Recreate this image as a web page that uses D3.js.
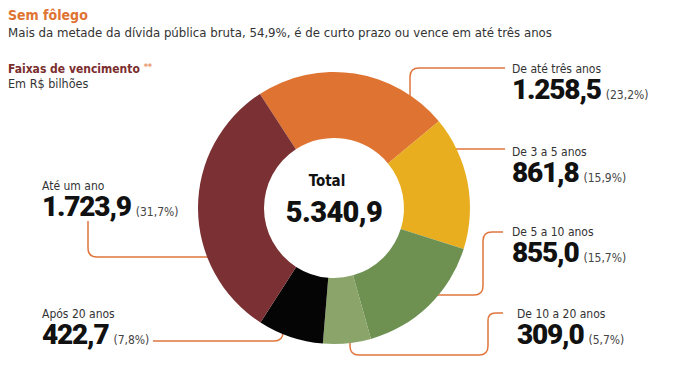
<!DOCTYPE html>
<html>
<head>
<meta charset="utf-8">
<script src="https://cdn.jsdelivr.net/npm/d3@7"></script>
<style>
  body { margin: 0; background: #fff; }
  text { font-family: "Liberation Sans Narrow", "DejaVu Sans Condensed", "Roboto", sans-serif; }
  .big { font-family: "Roboto", "DejaVu Sans", sans-serif; font-weight: 900; }
</style>
</head>
<body>
<script>
// data
var categories = ["De até três anos", "De 3 a 5 anos", "De 5 a 10 anos", "De 10 a 20 anos", "Após 20 anos", "Até um ano"];
var values = [1258.5, 861.8, 855.0, 309.0, 422.7, 1723.9];
var shares = [23.2, 15.9, 15.7, 5.7, 7.8, 31.7];
var total = 5340.9; // as printed in the centre
var colors = ["#df7332", "#e8ae1f", "#6e9152", "#8aa46a", "#050505", "#7b3133"];

var svgWidth = 675;
var svgHeight = 373;

var cx = 334, cy = 208;
var outerR = 136, innerR = 70;

// label placement + leader lines (layout only)
var labelLayout = [
    {x: 512, y: 73, line: [[410, 110], [410, 68], [505, 68]]},
    {x: 512, y: 156, line: [[440, 149], [505, 149]]},
    {x: 512, y: 236, line: [[420, 295], [483, 295], [483, 232], [503, 232]]},
    {x: 517, y: 318, line: [[350, 330], [350, 355], [488, 355], [488, 313], [503, 313]]},
    {x: 42, y: 318, line: [[153, 341], [283, 341], [283, 320]]},
    {x: 42, y: 190, line: [[88, 221], [88, 257], [215, 257]]}
];

var br = d3.formatLocale({decimal: ",", thousands: ".", grouping: [3], currency: ["R$", ""]});
var fmtVal = br.format(",.1f");
var fmtPct = br.format(".1f");

var svg = d3.select("body")
    .append("svg")
    .attr("width", svgWidth)
    .attr("height", svgHeight);

// header
svg.append("text")
    .attr("x", 8).attr("y", 20)
    .attr("fill", "#df7332")
    .attr("font-size", 14).attr("font-weight", "bold")
    .text("Sem fôlego");

svg.append("text")
    .attr("x", 8).attr("y", 37)
    .attr("fill", "#333")
    .attr("font-size", 13.1)
    .text("Mais da metade da dívida pública bruta, 54,9%, é de curto prazo ou vence em até três anos");

var faixas = svg.append("text")
    .attr("x", 8).attr("y", 73)
    .attr("fill", "#7b2e2e")
    .attr("font-size", 12).attr("font-weight", "bold");
faixas.append("tspan").text("Faixas de vencimento ");
faixas.append("tspan").attr("fill", "#e8946a").attr("font-size", 9).attr("dy", -3).text("**");

svg.append("text")
    .attr("x", 8).attr("y", 88)
    .attr("fill", "#333")
    .attr("font-size", 12.5)
    .text("Em R$ bilhões");

// rounded-corner polyline
function roundPath(pts, r) {
    var d = "M" + pts[0][0] + "," + pts[0][1];
    for (var i = 1; i < pts.length - 1; i++) {
        var p0 = pts[i - 1], p1 = pts[i], p2 = pts[i + 1];
        var l1 = Math.hypot(p1[0] - p0[0], p1[1] - p0[1]);
        var l2 = Math.hypot(p2[0] - p1[0], p2[1] - p1[1]);
        var rr = Math.min(r, l1 / 2, l2 / 2);
        var a = [p1[0] - (p1[0] - p0[0]) / l1 * rr, p1[1] - (p1[1] - p0[1]) / l1 * rr];
        var b = [p1[0] + (p2[0] - p1[0]) / l2 * rr, p1[1] + (p2[1] - p1[1]) / l2 * rr];
        d += "L" + a + "Q" + p1 + " " + b;
    }
    var last = pts[pts.length - 1];
    return d + "L" + last[0] + "," + last[1];
}

// leader lines (under the donut)
svg.append("g").selectAll("path")
    .data(labelLayout)
    .enter()
    .append("path")
    .attr("d", d => roundPath(d.line, 9))
    .attr("fill", "none")
    .attr("stroke", "#e0763e")
    .attr("stroke-width", 1.5);

// donut
var pie = d3.pie()
    .sort(null)
    .startAngle(-33 * Math.PI / 180)
    .endAngle(-33 * Math.PI / 180 + 2 * Math.PI)
    .value(d => d);

var arc = d3.arc().innerRadius(innerR).outerRadius(outerR);

var chartGroup = svg.append("g")
    .attr("transform", `translate(${cx}, ${cy})`);

chartGroup.selectAll("path")
    .data(pie(values))
    .enter()
    .append("path")
    .attr("d", arc)
    .attr("fill", (d, i) => colors[i]);

chartGroup.append("text")
    .attr("x", -7).attr("y", -22)
    .attr("text-anchor", "middle")
    .attr("fill", "#111")
    .attr("font-size", 15).attr("font-weight", "bold")
    .text("Total");

chartGroup.append("text")
    .attr("class", "big")
    .attr("x", 0).attr("y", 14)
    .attr("text-anchor", "middle")
    .attr("fill", "#111")
    .attr("font-size", 29)
    .attr("letter-spacing", -0.6)
    .text(fmtVal(total));

// labels
var labels = svg.append("g").selectAll("g")
    .data(categories)
    .enter()
    .append("g")
    .attr("transform", (d, i) => `translate(${labelLayout[i].x}, ${labelLayout[i].y})`);

labels.append("text")
    .attr("fill", "#333")
    .attr("font-size", 12)
    .text(d => d);

var valText = labels.append("text")
    .attr("y", 26)
    .attr("fill", "#111");

valText.append("tspan")
    .attr("class", "big")
    .attr("font-size", 28)
    .attr("letter-spacing", -1.2)
    .text((d, i) => fmtVal(values[i]));

valText.append("tspan")
    .attr("dx", 5)
    .attr("fill", "#444")
    .attr("font-size", 12)
    .text((d, i) => "(" + fmtPct(shares[i]) + "%)");
</script>
</body>
</html>
